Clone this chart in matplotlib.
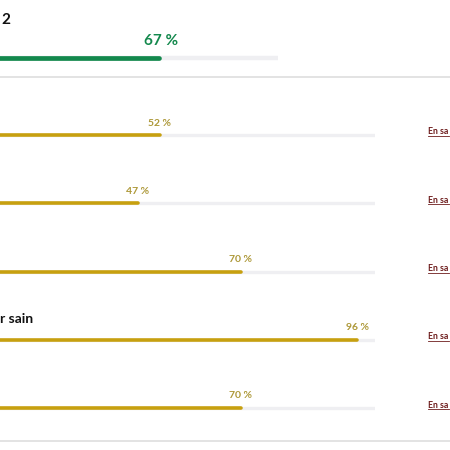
import matplotlib.pyplot as plt
from matplotlib.lines import Line2D

# Data (texts are the parts visible in the crop)
title_text = '2'
global_score = 67
row_labels = ['', '', '', 'r sain', '']
row_values = [52, 47, 70, 96, 70]
link_text = 'En sa'

plt.rcParams['font.family'] = ['Lato', 'DejaVu Sans']

W, H = 450, 450
fig = plt.figure(figsize=(4.5, 4.5), dpi=100)
fig.patch.set_facecolor('white')


def fx(px):
    return px / W


def fy(py):
    return 1 - py / H


green = '#14894d'
gold = '#c7a00f'
gold_txt = '#ad9838'
track = '#efeff2'
sep = '#dedede'
link_col = '#6e1d1d'

# Title
fig.text(fx(1), fy(20), title_text, ha='left', va='center',
         fontsize=11, fontweight='bold', color='#111111')

# Global score bar
axg = fig.add_axes([fx(-82), fy(66), fx(360), 16 / H])
axg.set_xlim(0, 100)
axg.set_ylim(-0.5, 0.5)
axg.axis('off')
axg.hlines(0, 0, 100, color=track, linewidth=3.2, capstyle='round')
axg.hlines(0, 0, global_score, color=green, linewidth=3.4, capstyle='round')
axg.annotate(f'{global_score} %', (global_score, 0), xytext=(2, 17),
             textcoords='offset pixels', ha='center', va='center',
             fontsize=11, fontweight='bold', color=green,
             annotation_clip=False)

# Separators
fig.add_artist(Line2D([0, 1], [fy(77), fy(77)], color=sep, linewidth=1.2))
fig.add_artist(Line2D([0, 1], [fy(441), fy(441)], color=sep, linewidth=1.2))

# Row bars
top, step = 135, 68.25
n = len(row_values)
ax = fig.add_axes([fx(-73), fy(top + step * (n - 0.5)), fx(448), step * n / H])
ax.set_xlim(0, 100)
ax.set_ylim(n - 0.5, -0.5)
ax.axis('off')

for i, v in enumerate(row_values):
    ax.hlines(i, 0, 100, color=track, linewidth=2.4, capstyle='butt')
    ax.hlines(i, 0, v, color=gold, linewidth=2.6, capstyle='round')
    ax.annotate(f'{v} %', (v, i), xytext=(0, 12), textcoords='offset pixels',
                ha='center', va='center', fontsize=7.5, fontweight='bold',
                color=gold_txt, annotation_clip=False)
    row_y = top + step * i
    if row_labels[i]:
        fig.text(fx(0), fy(row_y - 21), row_labels[i], ha='left', va='center',
                 fontsize=10, fontweight='bold', color='#111111')
    # link on the right, underlined
    fig.text(fx(428), fy(row_y - 3), link_text, ha='left', va='center',
             fontsize=6.3, fontweight='bold', color=link_col)
    fig.add_artist(Line2D([fx(428), fx(449)], [fy(row_y + 1), fy(row_y + 1)],
                          color=link_col, linewidth=0.6))

fig.savefig('out.png', dpi=100, facecolor='white')
